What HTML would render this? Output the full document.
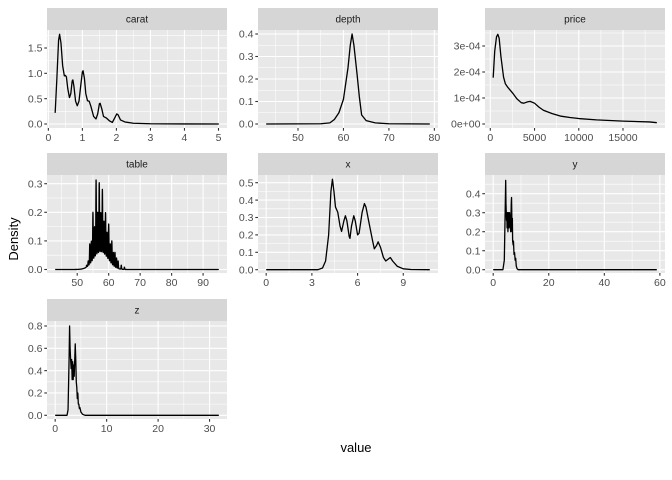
<!DOCTYPE html>
<html><head><meta charset="utf-8"><style>
html,body{margin:0;padding:0;background:#fff;}
svg{display:block;font-family:"Liberation Sans",Arial,sans-serif;}
</style></head><body>
<svg id="s" width="672" height="480" viewBox="0 0 672 480" xmlns="http://www.w3.org/2000/svg">
<text x="356" y="452" font-size="13" text-anchor="middle" fill="#000">value</text>
<text transform="translate(18,239) rotate(-90)" font-size="13" text-anchor="middle" fill="#000">Density</text>
</svg>
<script>
var S=document.getElementById('s');var NS='http://www.w3.org/2000/svg';
function el(t,a,txt){var e=document.createElementNS(NS,t);for(var k in a)e.setAttribute(k,a[k]);if(txt!==undefined)e.textContent=txt;S.appendChild(e);return e;}
function panel(o){
 var X0=o.x0,X1=o.x1,T=o.st,PT=o.st+22,PB=o.pb;
 var sx=function(v){return X0+(v-o.xmin)/(o.xmax-o.xmin)*(X1-X0);};
 var k=(o.y0p-o.yrp)/o.yrv;var sy=function(v){return o.y0p-v*k;};
 el('rect',{x:X0,y:T,width:X1-X0,height:22,fill:'#d6d6d6'});
 el('text',{x:(X0+X1)/2,y:T+14.5,'font-size':'10','text-anchor':'middle',fill:'#1a1a1a'},o.name);
 el('rect',{x:X0,y:PT,width:X1-X0,height:PB-PT,fill:'#e8e8e8'});
 var xb=o.xb,yb=o.yb,i,v;
 var xm=[],ym=[];
 for(i=0;i<xb.length-1;i++)xm.push((xb[i]+xb[i+1])/2);
 xm.push(xb[0]-(xb[1]-xb[0])/2);xm.push(xb[xb.length-1]+(xb[1]-xb[0])/2);
 for(i=0;i<yb.length-1;i++)ym.push((yb[i]+yb[i+1])/2);
 ym.push(yb[yb.length-1]+(yb[1]-yb[0])/2);
 xm.forEach(function(v){var p=sx(v);if(p>X0&&p<X1)el('line',{x1:p,x2:p,y1:PT,y2:PB,stroke:'#fff','stroke-width':0.55});});
 ym.forEach(function(v){var p=sy(v);if(p>PT&&p<PB)el('line',{x1:X0,x2:X1,y1:p,y2:p,stroke:'#fff','stroke-width':0.55});});
 xb.forEach(function(v,j){var p=sx(v);el('line',{x1:p,x2:p,y1:PT,y2:PB,stroke:'#fff','stroke-width':1.1});
  el('line',{x1:p,x2:p,y1:PB,y2:PB+2.7,stroke:'#333','stroke-width':1.1});
  el('text',{x:p,y:PB+13,'font-size':'10.5','text-anchor':'middle',fill:'#4d4d4d'},o.xl[j]);});
 yb.forEach(function(v,j){var p=sy(v);el('line',{x1:X0,x2:X1,y1:p,y2:p,stroke:'#fff','stroke-width':1.1});
  el('line',{x1:X0-2.7,x2:X0,y1:p,y2:p,stroke:'#333','stroke-width':1.1});
  el('text',{x:X0-4.5,y:p+3.7,'font-size':'10.5','text-anchor':'end',fill:'#4d4d4d'},o.yl[j]);});
 var pts=o.pts.map(function(q){return sx(q[0]).toFixed(2)+','+sy(q[1]).toFixed(2);}).join(' ');
 el('polyline',{points:pts,fill:'none',stroke:'#000','stroke-width':1.3,'stroke-linejoin':'round'});
}
function nums(a){return a.map(String);}
var tb=[];var H={53:0.015,53.5:0.03,54:0.09,54.5:0.1,55:0.2,55.5:0.15,56:0.315,56.5:0.2,57:0.305,57.5:0.2,58:0.28,58.5:0.17,59:0.2,59.5:0.13,60:0.16,60.5:0.09,61:0.1,61.5:0.06,62:0.06,62.5:0.04,63:0.03,64:0.015,65:0.008};
for(var x=43;x<=95;x+=0.03){var env=function(c){return 0.06*Math.exp(-Math.pow(c-57.5,2)/(2*2.3*2.3));};var f=env(x);
 for(var kk in H){var c=parseFloat(kk);var h=H[kk]-env(c);if(h<0)h=0;f+=h*Math.exp(-Math.pow(x-c,2)/(2*0.08*0.08));}
 tb.push([x,f]);}
panel({name:'carat',x0:47,x1:227,st:8,pb:128,xmin:-0.04,xmax:5.25,y0p:124,yrv:1.5,yrp:48,
 xb:[0,1,2,3,4,5],xl:nums([0,1,2,3,4,5]),yb:[0,0.5,1,1.5],yl:['0.0','0.5','1.0','1.5'],
 pts:[[0.2,0.22],[0.25,0.9],[0.3,1.65],[0.33,1.77],[0.37,1.6],[0.42,1.15],[0.47,0.95],[0.5,0.96],[0.53,0.93],[0.57,0.7],[0.62,0.52],[0.66,0.6],[0.7,0.85],[0.72,0.87],[0.75,0.75],[0.8,0.45],[0.85,0.36],[0.9,0.45],[0.95,0.75],[1.0,1.03],[1.02,1.05],[1.06,0.9],[1.1,0.6],[1.15,0.46],[1.2,0.45],[1.25,0.35],[1.33,0.15],[1.4,0.1],[1.45,0.2],[1.5,0.4],[1.52,0.41],[1.57,0.3],[1.62,0.15],[1.7,0.12],[1.8,0.06],[1.88,0.03],[1.95,0.12],[2.01,0.2],[2.05,0.18],[2.12,0.08],[2.25,0.04],[2.5,0.015],[3,0.005],[4,0.001],[5.01,0]]});
panel({name:'depth',x0:258,x1:438,st:8,pb:128,xmin:41.2,xmax:80.8,y0p:124,yrv:0.4,yrp:34,
 xb:[50,60,70,80],xl:nums([50,60,70,80]),yb:[0,0.1,0.2,0.3,0.4],yl:['0.0','0.1','0.2','0.3','0.4'],
 pts:[[43,0],[55,0.001],[57,0.005],[58,0.02],[59,0.05],[60,0.11],[61,0.25],[61.5,0.35],[61.9,0.4],[62.3,0.35],[63,0.22],[63.5,0.12],[64,0.04],[65,0.015],[67,0.005],[70,0.001],[79,0]]});
panel({name:'price',x0:485,x1:665,st:8,pb:128,xmin:-599,xmax:19748,y0p:124,yrv:3e-4,yrp:46,
 xb:[0,5000,10000,15000],xl:nums([0,5000,10000,15000]),yb:[0,1e-4,2e-4,3e-4],yl:['0e+00','1e-04','2e-04','3e-04'],
 pts:[[326,1.78e-4],[500,2.8e-4],[700,3.35e-4],[850,3.45e-4],[1000,3.3e-4],[1200,2.6e-4],[1500,1.8e-4],[1700,1.55e-4],[2000,1.4e-4],[2500,1.2e-4],[3000,0.97e-4],[3500,0.82e-4],[3800,0.8e-4],[4200,0.85e-4],[4500,0.87e-4],[5000,0.8e-4],[5500,0.65e-4],[6000,0.53e-4],[7000,0.4e-4],[8000,0.3e-4],[9000,0.25e-4],[10000,0.21e-4],[12000,0.16e-4],[15000,0.11e-4],[18000,0.08e-4],[18823,0.05e-4]]});
panel({name:'table',x0:47,x1:227,st:153,pb:273,xmin:40.4,xmax:97.6,y0p:269.5,yrv:0.3,yrp:183.7,
 xb:[50,60,70,80,90],xl:nums([50,60,70,80,90]),yb:[0,0.1,0.2,0.3],yl:['0.0','0.1','0.2','0.3'],pts:tb});
panel({name:'x',x0:258,x1:438,st:153,pb:273,xmin:-0.537,xmax:11.28,y0p:269.7,yrv:0.5,yrp:182.7,
 xb:[0,3,6,9],xl:nums([0,3,6,9]),yb:[0,0.1,0.2,0.3,0.4,0.5],yl:['0.0','0.1','0.2','0.3','0.4','0.5'],
 pts:[[0,0],[3.4,0],[3.7,0.01],[3.9,0.05],[4.1,0.2],[4.25,0.45],[4.35,0.52],[4.45,0.45],[4.55,0.36],[4.7,0.33],[4.85,0.25],[4.95,0.22],[5.1,0.28],[5.2,0.31],[5.3,0.28],[5.45,0.19],[5.5,0.18],[5.6,0.25],[5.75,0.31],[5.85,0.28],[6.0,0.2],[6.1,0.21],[6.3,0.33],[6.45,0.38],[6.55,0.36],[6.75,0.27],[7.0,0.16],[7.1,0.12],[7.25,0.14],[7.35,0.16],[7.5,0.13],[7.7,0.07],[7.85,0.05],[8.0,0.06],[8.15,0.07],[8.3,0.05],[8.6,0.02],[9,0.005],[9.5,0.001],[10.74,0]]});
panel({name:'y',x0:485,x1:665,st:153,pb:273,xmin:-2.95,xmax:61.85,y0p:269.7,yrv:0.4,yrp:193.7,
 xb:[0,20,40,60],xl:nums([0,20,40,60]),yb:[0,0.1,0.2,0.3,0.4],yl:['0.0','0.1','0.2','0.3','0.4'],
 pts:[[0,0],[3.5,0],[4.0,0.05],[4.3,0.3],[4.5,0.47],[4.6,0.35],[4.8,0.26],[4.9,0.3],[5.0,0.22],[5.2,0.3],[5.3,0.2],[5.5,0.3],[5.7,0.22],[5.9,0.3],[6.1,0.25],[6.3,0.2],[6.5,0.35],[6.6,0.38],[6.8,0.2],[6.9,0.27],[7.0,0.15],[7.2,0.13],[7.3,0.15],[7.5,0.08],[7.7,0.09],[7.9,0.05],[8.1,0.06],[8.3,0.02],[8.6,0.005],[9,0],[58.9,0]]});
panel({name:'z',x0:47,x1:227,st:299,pb:419,xmin:-1.59,xmax:33.39,y0p:415.3,yrv:0.8,yrp:326,
 xb:[0,10,20,30],xl:nums([0,10,20,30]),yb:[0,0.2,0.4,0.6,0.8],yl:['0.0','0.2','0.4','0.6','0.8'],
 pts:[[0,0],[2.3,0],[2.5,0.05],[2.7,0.5],[2.8,0.8],[2.9,0.6],[3.0,0.5],[3.1,0.42],[3.2,0.5],[3.3,0.32],[3.4,0.48],[3.5,0.32],[3.6,0.45],[3.7,0.35],[3.8,0.5],[3.9,0.64],[4.0,0.5],[4.1,0.3],[4.2,0.25],[4.3,0.15],[4.4,0.2],[4.5,0.1],[4.6,0.1],[4.7,0.06],[4.8,0.07],[5.0,0.03],[5.3,0.01],[5.8,0],[31.8,0]]});
</script>
</body></html>
